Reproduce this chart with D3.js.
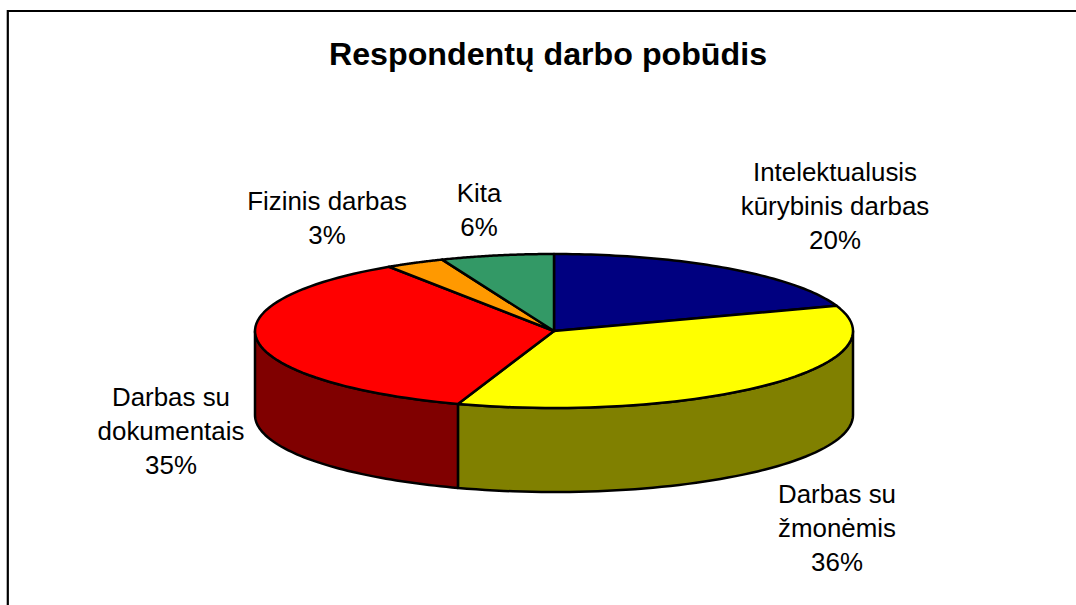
<!DOCTYPE html>
<html>
<head>
<meta charset="utf-8">
<script src="https://cdn.jsdelivr.net/npm/d3@7"></script>
<style>
  html, body { margin: 0; background: #fff; overflow: hidden; }
  text { font-family: "Liberation Sans", Arial, sans-serif; fill: #000; }
</style>
</head>
<body>
<script>
const chartTitle = "Respondentų darbo pobūdis";
const categories = ["Intelektualusis kūrybinis darbas", "Darbas su žmonėmis", "Darbas su dokumentais", "Fizinis darbas", "Kita"];
const values = [19.7, 35.5, 35.49, 3.2, 6.1];
const topColors = ["#000080", "#ffff00", "#ff0000", "#ff9900", "#339966"];
const sideColors = ["#000040", "#808000", "#800000", "#804c00", "#1a4c33"];

const w = 1076, h = 605;

// label lines and centres, one per category
const labelLines = [["Intelektualusis", "kūrybinis darbas"], ["Darbas su", "žmonėmis"], ["Darbas su", "dokumentais"], ["Fizinis darbas"], ["Kita"]];
const labelCenter = [[835, 172], [837, 494], [171, 397], [327, 201], [479, 193]];

const svg = d3.select("body").append("svg").attr("width", w).attr("height", h);

svg.append("rect").attr("width", w).attr("height", h).attr("fill", "#fff");

// chart frame, only top and left are in the picture
svg.append("path")
   .attr("d", "M7.8,605V11H1076")
   .attr("fill", "none")
   .attr("stroke", "#000")
   .attr("stroke-width", 2.2);

svg.append("text")
   .text(chartTitle)
   .attr("x", 548)
   .attr("y", 65)
   .attr("text-anchor", "middle")
   .style("font-size", "32.2px")
   .style("font-weight", "bold");

// pie is a flattened circle, the wall hangs below it
const cx = 554, cy = 331, rx = 299, ry = 77, depth = 84;
const xScale = d3.scaleLinear().domain([-1, 1]).range([cx - rx, cx + rx]);
const yScale = d3.scaleLinear().domain([-1, 1]).range([cy - ry, cy + ry]);

const pie = d3.pie().sort(null);
const slices = pie(values);

const rimPoints = (a0, a1) =>
  d3.range(0, 61).map(i => {
    const a = a0 + (a1 - a0) * i / 60;
    return [xScale(Math.sin(a)), yScale(-Math.cos(a))];
  });
const line = d3.line();

// front wall, only the part of each slice between 90 and 270 degrees
const wallG = svg.append("g");
slices.forEach((d, i) => {
  const a0 = Math.max(d.startAngle, Math.PI / 2);
  const a1 = Math.min(d.endAngle, Math.PI * 1.5);
  if (a1 <= a0) return;
  const top = rimPoints(a0, a1);
  const bottom = top.map(p => [p[0], p[1] + depth]).reverse();
  wallG.append("path")
       .attr("d", line(top.concat(bottom)) + "Z")
       .attr("fill", sideColors[i])
       .attr("stroke", "#000")
       .attr("stroke-width", 2.5)
       .attr("stroke-linejoin", "round");
});

svg.append("g").selectAll("path")
   .data(slices)
   .enter()
   .append("path")
   .attr("d", d => line([[cx, cy]].concat(rimPoints(d.startAngle, d.endAngle))) + "Z")
   .attr("fill", (d, i) => topColors[i])
   .attr("stroke", "#000")
   .attr("stroke-width", 2.5)
   .attr("stroke-linejoin", "round");

// labels: name lines then the rounded percent
const lineH = 34;
labelLines.forEach((lines, i) => {
  const all = lines.concat(Math.round(values[i]) + "%");
  const g = svg.append("text")
               .attr("text-anchor", "middle")
               .style("font-size", "25.9px");
  all.forEach((t, j) => {
    g.append("tspan")
     .attr("x", labelCenter[i][0])
     .attr("y", labelCenter[i][1] + j * lineH + 9)
     .text(t);
  });
});
</script>
</body>
</html>
